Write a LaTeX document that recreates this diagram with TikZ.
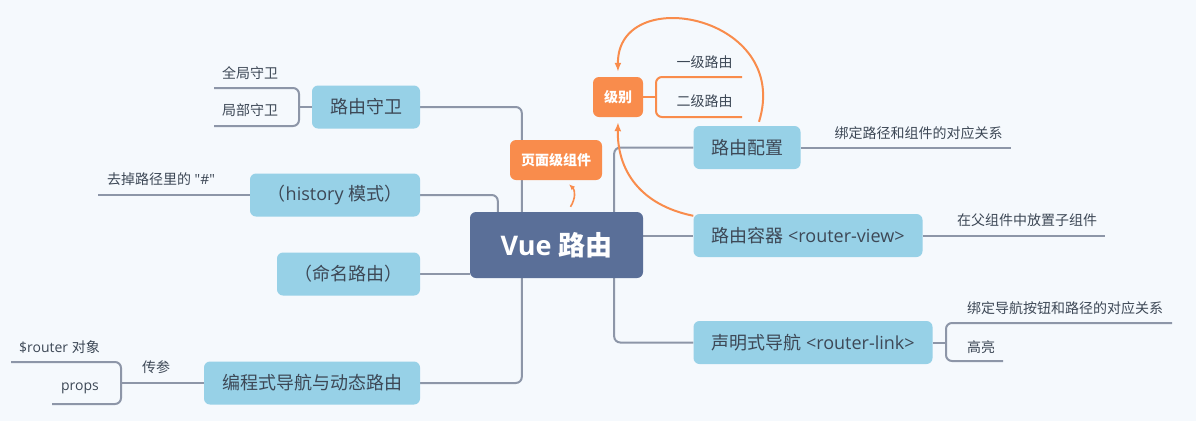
\documentclass[tikz,border=0pt]{standalone}
\usepackage{fontspec}
\setmainfont{Open Sans}
\newfontfamily\cjk{Noto Sans CJK SC}
\font\qfont="Open Sans" at 14pt
\usetikzlibrary{arrows.meta,backgrounds,calc}
\definecolor{bg}{HTML}{F5F9FD}
\definecolor{rootc}{HTML}{5A6F98}
\definecolor{topicc}{HTML}{97D1E7}
\definecolor{orangec}{HTML}{F98C4C}
\definecolor{linec}{HTML}{8D96A8}
\definecolor{txtc}{HTML}{3D4856}
\tikzset{
 topic/.style={fill=topicc, rounded corners=6pt, text=txtc, font=\fontsize{18}{20}\selectfont, inner sep=0pt, minimum height=43pt, align=center},
 rootbox/.style={fill=rootc, rounded corners=6pt, text=white, font=\fontsize{27}{30}\selectfont\bfseries, minimum width=173pt, minimum height=66pt, inner sep=0pt},
 tagbox/.style={fill=orangec, rounded corners=6pt, text=white, font=\fontsize{14}{16}\selectfont\bfseries, minimum height=40pt, inner sep=0pt},
 sub/.style={text=txtc, font=\fontsize{14}{16}\selectfont, inner sep=0pt},
 conn/.style={draw=linec, line width=2pt, rounded corners=6pt},
 oconn/.style={draw=orangec, line width=2pt, rounded corners=6pt},
 rel/.style={draw=orangec, line width=2pt, -{Latex[length=9pt,width=7pt]}},
 relsmall/.style={draw=orangec, line width=1.6pt, -{Latex[length=6pt,width=5pt]}},
}
\begin{document}
\begin{tikzpicture}[x=1pt,y=-1pt]
\useasboundingbox (0,0) rectangle (1196,421);
% main nodes
\node[rootbox] (root) at (556.5,245) {Vue {\cjk 路由}};
\node[topic, minimum width=108pt] (guard) at (366,107) {\cjk 路由守卫};
\node[topic, minimum width=170pt] (hist) at (335,195) {{\cjk （}history {\cjk 模式）}};
\node[topic, minimum width=143pt] (named) at (348.5,274) {\cjk （命名路由）};
\node[topic, minimum width=216pt] (prog) at (312,383) {\cjk 编程式导航与动态路由};
\node[tagbox, minimum width=92pt] (page) at (556,160) {\cjk 页面级组件};
\node[tagbox, minimum width=50pt] (level) at (618,97) {\cjk 级别};
\node[topic, minimum width=107pt] (config) at (747,147.5) {\cjk 路由配置};
\node[topic, minimum width=229pt] (view) at (808,235.5) {{\cjk 路由容器} <router-view>};
\node[topic, minimum width=239pt] (link) at (813,342.5) {{\cjk 声明式导航} <router-link>};
% sub texts
\node[sub] (g1) at (250,73) {\cjk 全局守卫};
\node[sub] (g2) at (250,110) {\cjk 局部守卫};
\node[sub] (h1) at (161,179) {{\cjk 去掉路径里的} {\qfont "\#"}};
\node[sub] (p1) at (59.5,347) {\$router {\cjk 对象}};
\node[sub] (p2) at (80,388) {props};
\node[sub] (pl) at (156,367) {\cjk 传参};
\node[sub] (l1) at (704.5,62) {\cjk 一级路由};
\node[sub] (l2) at (704.5,101) {\cjk 二级路由};
\node[sub] (c1) at (918.5,133) {\cjk 绑定路径和组件的对应关系};
\node[sub] (v1) at (1027,220) {\cjk 在父组件中放置子组件};
\node[sub, anchor=west] (k1) at (967,308) {\cjk 绑定导航按钮和路径的对应关系};
\node[sub, anchor=west] (k2) at (967,347) {\cjk 高亮};
% coordinates
\coordinate (gT) at (214,88);
\coordinate (gB) at (214,126);
\coordinate (gj) at (299,107);
\coordinate (hE) at (98,195);
\coordinate (pT) at (11,362);
\coordinate (pB) at (52,404);
\coordinate (pj) at (121,383);
\coordinate (lT) at (742,77);
\coordinate (lB) at (742,117);
\coordinate (lj) at (656,97);
\coordinate (cE) at (1011,147.5);
\coordinate (vE) at (1105,235.5);
\coordinate (kT) at (1172,323);
\coordinate (kB) at (1003,361);
\coordinate (kj) at (946,342.5);
\begin{scope}[on background layer]
\fill[bg] (0,0) rectangle (1196,421);
\draw[conn] (guard.east) -| ([xshift=52pt]root.north west);
\draw[conn] (hist.east) -| ([xshift=28pt]root.north west);
\draw[conn] (named.east) -- (named.east -| root.west);
\draw[conn] (prog.east) -| ([xshift=52pt]root.south west);
\draw[conn] ([xshift=-29pt]root.north east) |- (config.west);
\draw[conn] (view.west -| root.east) -- (view.west);
\draw[conn] ([xshift=-29pt]root.south east) |- (link.west);
\draw[conn] (guard.west) -- (gj);
\draw[conn] (gT) -| (gB -| gj) -- (gB);
\draw[conn] (hist.west) -- (hE);
\draw[conn] (prog.west) -- (pj);
\draw[conn] (pT) -| (pB -| pj) -- (pB);
\draw[oconn] (level.east) -- (lj);
\draw[oconn] (lT) -| (lB -| lj) -- (lB);
\draw[conn] (config.east) -- (cE);
\draw[conn] (view.east) -- (vE);
\draw[conn] (link.east) -- (kj);
\draw[conn] (kT) -| (kB -| kj) -- (kB);
\end{scope}
% orange relations
\draw[rel] ([xshift=12pt,yshift=4pt]config.north) .. controls (792,15) and (617,-18) .. ([yshift=5pt]level.north);
\draw[rel] ([yshift=-2pt]view.north west) .. controls (640,205) and (617,170) .. ([yshift=-5pt]level.south);
\draw[relsmall] ([xshift=14pt,yshift=5pt]root.north) .. controls (576,198) and (575,190) .. ([xshift=13pt,yshift=-4pt]page.south);
\end{tikzpicture}
\end{document}
